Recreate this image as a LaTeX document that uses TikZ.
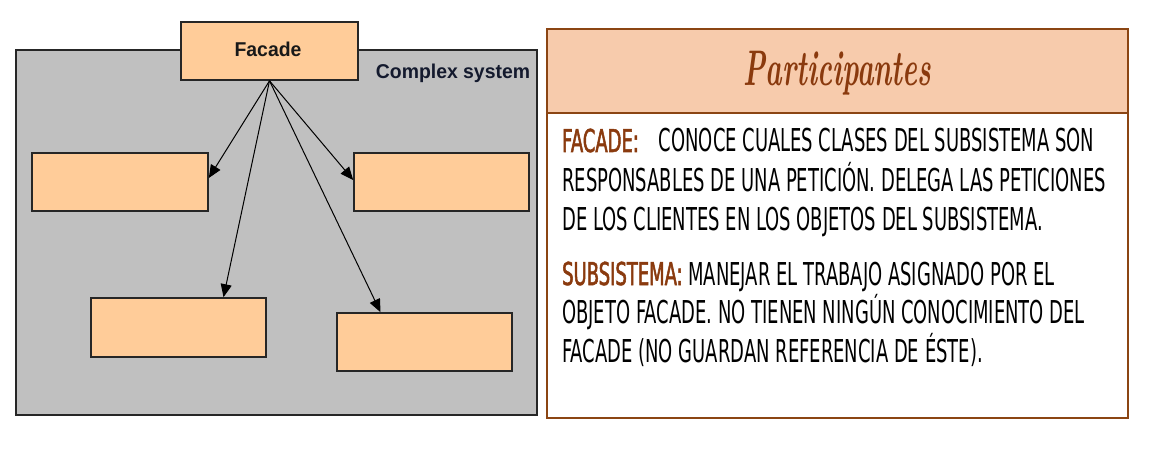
\documentclass[tikz,border=0pt]{standalone}
\usepackage{fontspec}
\usepackage{graphicx}
\usetikzlibrary{arrows.meta}
\newfontfamily\arialbold{Liberation Sans}[FakeStretch=0.97]
\newfontfamily\handfont{DejaVu Sans}[FakeStretch=0.57]
\definecolor{sysgray}{HTML}{C0C0C0}
\definecolor{peach}{HTML}{FFCC99}
\definecolor{headpeach}{HTML}{F7CBAC}
\definecolor{brownline}{HTML}{8B4513}
\definecolor{brownlabel}{HTML}{8A3A0E}
\definecolor{navy}{HTML}{141A2E}
\tikzset{
  sysbox/.style={draw=black!85, line width=1.6pt, fill=sysgray, inner sep=0pt},
  classbox/.style={draw=black!85, line width=1.6pt, fill=peach, inner sep=0pt, minimum width=176pt, minimum height=58pt},
  conn/.style={line width=1pt, -{Triangle[length=13pt,width=11pt]}},
  panel/.style={draw=brownline, line width=2.2pt, fill=white, inner sep=0pt},
  header/.style={draw=brownline, line width=2.2pt, fill=headpeach, inner sep=0pt},
  bodyline/.style={anchor=base west, inner sep=0pt, font=\handfont\fontsize{31.5}{31.5}\selectfont},
  lbl/.style={text=brownlabel}
}
\newcommand{\plabel}[1]{\textcolor{brownlabel}{\addfontfeatures{FakeBold=1.6}#1}}
\begin{document}
\begin{tikzpicture}[x=1pt,y=-1pt]
\path[use as bounding box] (0,0) rectangle (1150,449);
% left diagram
\node[sysbox, minimum width=521pt, minimum height=365pt] (sys) at (276.5,232.5) {};
\node[classbox, minimum width=177pt] (fac) at (269.5,51) {};
\node[font=\arialbold\bfseries\fontsize{20}{20}\selectfont, text=black!90, anchor=base, inner sep=0pt] (factxt) at (268,57) {Facade};
\node[font=\arialbold\bfseries\fontsize{20}{20}\selectfont, text=navy, anchor=base, inner sep=0pt] (cs) at (453,79) {Complex system};
\node[classbox] (ul) at (120,182) {};
\node[classbox, minimum width=175pt] (ur) at (441.5,182) {};
\node[classbox, minimum width=175pt, minimum height=59pt] (ll) at (178.5,327.5) {};
\node[classbox, minimum width=175pt] (lr) at (424.5,342) {};
\draw[conn] (fac.south) -- ([yshift=4pt]ul.east);
\draw[conn] (fac.south) -- ([yshift=2pt]ur.west);
\draw[conn] (fac.south) -- ([xshift=45pt]ll.north);
\draw[conn] (fac.south) -- ([xshift=-44pt]lr.north);
% right panel
\node[panel, minimum width=581pt, minimum height=389pt] (pan) at (837.5,223.5) {};
\node[header, minimum width=581pt, minimum height=84pt] (head) at (837.5,71) {};
\node[anchor=base, inner sep=0pt, text=brownlabel] (title) at (837.5,86) {\scalebox{0.56}[1]{\bfseries\itshape\fontsize{50}{50}\selectfont\addfontfeatures{FakeBold=3}Participantes}};
\node[bodyline] (l1) at (562,152) {\plabel{FACADE:}\hspace{0.45em} CONOCE CUALES CLASES DEL SUBSISTEMA SON};
\node[bodyline] (l2) at (562,191) {RESPONSABLES DE UNA PETICIÓN. DELEGA LAS PETICIONES};
\node[bodyline] (l3) at (562,230) {DE LOS CLIENTES EN LOS OBJETOS DEL SUBSISTEMA.};
\node[bodyline] (l4) at (562,285) {\plabel{SUBSISTEMA:} MANEJAR EL TRABAJO ASIGNADO POR EL};
\node[bodyline] (l5) at (562,323) {OBJETO FACADE. NO TIENEN NINGÚN CONOCIMIENTO DEL};
\node[bodyline] (l6) at (562,362) {FACADE (NO GUARDAN REFERENCIA DE ÉSTE).};
\end{tikzpicture}
\end{document}
